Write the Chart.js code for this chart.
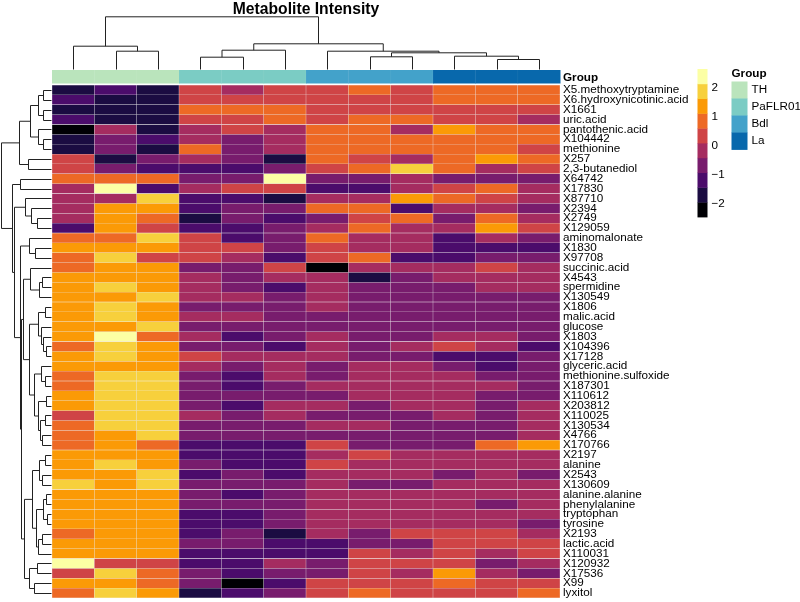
<!DOCTYPE html>
<html><head><meta charset="utf-8">
<script src="https://cdn.jsdelivr.net/npm/chart.js@4.4.1/dist/chart.umd.min.js"></script>
<style>html,body{margin:0;padding:0;background:#fff}#wrap{width:800px;height:602px;position:relative}</style>
</head><body><div id="wrap"><canvas id="c" width="800" height="602"></canvas></div>
<script>
// ---------- data ----------
const rowLabels = ["X5.methoxytryptamine","X6.hydroxynicotinic.acid","X1661","uric.acid","pantothenic.acid","X104442","methionine","X257","2,3-butanediol","X64742","X17830","X87710","X2394","X2749","X129059","aminomalonate","X1830","X97708","succinic.acid","X4543","spermidine","X130549","X1806","malic.acid","glucose","X1803","X104396","X17128","glyceric.acid","methionine.sulfoxide","X187301","X110612","X203812","X110025","X130534","X4766","X170766","X2197","alanine","X2543","X130609","alanine.alanine","phenylalanine","tryptophan","tyrosine","X2193","lactic.acid","X110031","X120932","X17536","X99","lyxitol"];
const groupNames = ["TH","PaFLR01","Bdl","La"];
const sampleLabels = ["TH_1","TH_2","TH_3","PaFLR01_1","PaFLR01_2","PaFLR01_3","Bdl_1","Bdl_2","Bdl_3","La_1","La_2","La_3"];
const sampleGroup = [0,0,0,1,1,1,2,2,2,3,3,3];

// row-scaled intensities, 3 replicates per group, one triple per metabolite (rows in label order)
const valuesTH = [[-1.7,-1.2,-1.7],[-1.2,-1.7,-1.7],[-1.7,-1.7,-1.7],[-1.2,-1.7,-1.7],[-2.3,-0.2,-1.7],[-1.7,-0.7,-1.2],[-1.7,-0.7,-1.7],[0.4,-1.7,-0.7],[0.4,-0.7,-1.2],[0.9,0.9,0.9],[-0.2,2.5,-1.2],[-0.2,-0.2,1.9],[-0.2,1.4,1.4],[-0.2,1.4,0.9],[-1.2,1.4,0.4],[0.9,0.9,1.9],[1.4,1.4,1.4],[0.9,1.9,0.4],[0.9,1.4,1.4],[1.4,1.4,1.4],[1.4,1.9,1.4],[1.4,1.4,1.9],[1.4,1.9,1.4],[1.4,1.9,1.4],[1.4,1.4,1.9],[1.4,2.5,0.9],[0.9,1.9,1.4],[1.4,1.9,1.4],[1.4,1.4,1.4],[0.9,1.9,1.9],[0.9,1.9,1.9],[1.4,1.9,1.9],[1.4,1.9,1.9],[0.4,1.9,1.9],[0.9,1.9,1.9],[0.9,1.4,1.9],[0.9,1.4,0.9],[1.4,1.4,1.4],[1.4,1.9,1.4],[1.4,1.4,1.9],[1.9,1.4,1.9],[1.4,1.4,1.4],[1.4,1.4,1.4],[1.4,1.4,1.4],[1.4,1.4,1.4],[0.9,1.4,1.4],[1.4,1.4,1.4],[1.4,1.4,1.4],[2.5,0.4,0.4],[0.4,1.9,0.9],[1.4,1.4,0.9],[0.9,1.9,1.4]];
const valuesPaFLR01 = [[0.4,-0.2,0.4],[0.4,0.4,0.4],[0.9,0.9,0.9],[0.4,0.4,0.9],[-0.2,0.4,-0.2],[-0.2,-0.7,-0.2],[0.9,-0.7,-0.2],[-0.2,-0.7,-1.7],[-1.2,-1.2,-0.7],[-0.7,-0.7,2.5],[-0.2,0.4,0.4],[-1.2,-1.2,-1.7],[-1.2,-0.7,-0.7],[-1.7,-0.7,-1.2],[-1.2,-1.2,-0.7],[0.4,-1.2,-0.7],[0.4,0.4,-0.7],[0.4,-0.2,-1.2],[-0.7,-0.7,0.4],[-0.2,-0.7,-0.2],[-0.2,-0.7,-1.2],[-0.2,-0.2,-0.7],[-0.7,-0.7,-0.7],[-0.2,-0.2,-0.7],[-0.7,-0.7,-0.7],[-0.2,-1.2,-0.7],[-0.7,-0.7,-1.2],[0.4,-0.2,-0.2],[-0.2,-0.7,-0.2],[-0.7,-1.2,-0.2],[-0.7,-1.2,-0.7],[-0.7,-0.7,-0.7],[-0.7,-1.2,-0.2],[-0.2,-0.7,-0.2],[-0.7,-0.7,-0.7],[-0.7,-0.7,-0.7],[-1.2,-1.2,-1.2],[-1.2,-1.2,-1.2],[-0.7,-1.2,-1.2],[-1.2,-0.7,-1.2],[-0.7,-0.7,-0.7],[-0.7,-1.2,-0.7],[-0.7,-0.7,-0.7],[-1.2,-1.2,-0.7],[-1.2,-1.2,-0.7],[-1.2,-0.7,-1.7],[-0.7,-0.7,-1.2],[-1.2,-1.2,-1.2],[-1.2,-1.2,-0.2],[-0.7,-1.2,-0.7],[-0.7,-2.3,-1.2],[-1.7,-1.2,-0.7]];
const valuesBdl = [[0.4,0.9,0.4],[0.4,0.4,0.4],[0.4,0.4,0.4],[0.4,0.9,0.9],[0.9,0.9,-0.2],[0.9,0.9,0.9],[0.9,0.9,0.9],[0.9,0.4,-0.2],[0.4,0.9,1.9],[-0.7,-0.7,-0.2],[-1.2,-1.2,-0.2],[-0.2,-0.2,1.4],[0.9,0.9,-1.2],[-0.7,0.4,0.9],[-0.2,0.9,-0.2],[0.9,-0.2,-0.2],[0.4,-0.2,-0.2],[0.4,0.9,-1.2],[-2.3,-0.2,-0.2],[-0.2,-1.7,-0.7],[-0.2,-0.7,-0.7],[-0.2,-0.7,-0.7],[-0.2,-0.7,-0.7],[-0.7,-0.7,-0.7],[-0.7,-0.7,-0.7],[-0.2,-0.7,-0.7],[-0.2,-0.7,-0.2],[-0.2,-0.7,-0.7],[-0.7,-0.2,-0.2],[-0.7,-0.2,-0.2],[-0.2,-0.2,-0.2],[-0.7,-0.2,-0.2],[-0.2,-0.7,-0.2],[-0.7,-0.7,-0.7],[-0.2,-0.2,-0.7],[-0.7,-0.7,-0.7],[0.4,-0.7,-0.7],[-0.2,0.4,-0.2],[0.4,-0.2,-0.2],[-0.2,-0.2,-0.2],[-0.2,-0.7,-0.7],[-0.2,-0.2,-0.2],[-0.2,-0.2,-0.2],[-0.2,-0.2,-0.2],[-0.2,-0.2,-0.2],[-0.2,-0.7,0.4],[-1.2,-0.7,-0.7],[-1.2,0.4,-0.2],[-0.7,0.4,0.4],[-0.7,0.4,-0.2],[0.4,0.4,0.4],[0.4,0.9,0.4]];
const valuesLa = [[0.9,0.9,0.9],[0.9,0.9,0.9],[0.4,0.4,0.4],[0.4,0.4,-0.2],[1.4,0.9,0.9],[0.9,0.9,0.9],[0.9,0.9,0.4],[0.9,1.4,0.9],[0.9,-0.2,0.4],[-0.7,-0.7,-0.7],[0.4,0.9,-0.2],[0.9,0.4,-0.2],[-0.2,-0.2,-0.7],[-0.7,0.9,-0.2],[-0.2,1.4,0.4],[-1.2,-0.2,-0.7],[-1.2,-1.2,-1.2],[-1.2,-0.7,-0.7],[-0.2,0.4,-0.2],[-0.2,-0.2,-0.2],[-0.7,-0.2,-0.2],[-0.7,-0.7,-0.7],[-0.7,-0.7,-0.7],[-0.7,-0.7,-0.7],[-0.7,-0.7,-0.7],[-0.2,-0.2,-0.7],[0.4,-0.2,-1.2],[-1.2,-1.2,-0.7],[-0.7,-1.2,-0.7],[-0.2,-0.7,-0.7],[-0.2,-0.2,-0.7],[-0.2,-0.7,-0.7],[-0.2,-0.7,-0.2],[-0.2,-0.7,-0.2],[-0.7,-0.7,-0.2],[-0.7,-0.7,-0.2],[-0.7,0.9,1.4],[-0.2,-0.2,-0.2],[-0.2,-0.2,-0.2],[-0.7,-0.2,-0.7],[-0.2,-0.2,-0.2],[-0.2,-0.2,-0.2],[-0.2,-0.7,-0.2],[-0.2,-0.2,-0.2],[-0.2,-0.2,-0.7],[0.4,0.4,-0.2],[0.4,0.4,0.4],[0.4,-0.2,0.4],[0.4,-0.7,-0.2],[1.4,-0.2,-0.7],[0.9,0.4,0.4],[0.4,0.4,0.9]];

// colour scale (10 equal bins between these limits) and its legend ticks
const colorMin = -2.46, colorMax = 2.64;
const legendTicks = [2, 1, 0, -1, -2];
const legendTickLabels = ["2", "1", "0", "\u22121", "\u22122"];

// hierarchical clustering: [left, right, mergeHeight]; leaves are 1-based sample / row numbers
const colTree = [[1,[2,3,18.3],23.3],[[[4,5,12.3],6,19.3],[7,[[8,9,12.7],[10,[11,12,10],13.3],16.7],18.3],25.7],52.7];
const rowTree = [
  [[[[1,2,7.7],[3,4,7.7],12.7],[5,[6,7,7.7],12.7],21],[8,9,23.7],32.7],
  [[10,11,31.3],
   [[12,[13,[14,15,13.7],20],26],
    [[16,[17,18,16],22],
     [[[19,[[20,21,9],22,12],21],[[[23,24,6],[25,[26,[27,28,5],8],10],13],[[29,[30,31,6],10],[[32,33,5],[[34,35,6],[36,37,9],11],13],17],22],28],
      [[[[38,39,6],[40,41,9],12],[[[42,43,5],[44,45,4],8],[[46,47,9],48,13],15],19],[[49,50,14],[51,52,17],22],27],30.3],31.3],37],39.3],
  51];

// ---------- styles ----------
const inferno = ["#000004","#1B0C42","#4B0C6B","#781C6D","#A52C60","#CF4446","#ED6925","#FB9A06","#F7D03C","#FCFFA4"];
const groupColors = ["#BAE4BC","#7BCCC4","#43A2CA","#0868AC"];
const FONT = '"Liberation Sans", Arial, Helvetica, sans-serif';

const groupValues = [valuesTH, valuesPaFLR01, valuesBdl, valuesLa];
function cellValue(row, col) { return groupValues[sampleGroup[col]][row][col % 3]; }
function colorOf(v) {
  let k = Math.floor((v - colorMin) / (colorMax - colorMin) * inferno.length);
  k = Math.max(0, Math.min(inferno.length - 1, k));
  return inferno[k];
}

function treeMax(t) { return Array.isArray(t) ? t[2] : 0; }
function drawTree(ctx, node, leafPos, toDepth, orient) {
  if (!Array.isArray(node)) return { p: leafPos(node - 1), h: 0 };
  const a = drawTree(ctx, node[0], leafPos, toDepth, orient);
  const b = drawTree(ctx, node[1], leafPos, toDepth, orient);
  const h = node[2];
  const d = toDepth(h), da = toDepth(a.h), db = toDepth(b.h);
  ctx.beginPath();
  if (orient === 'col') {
    ctx.moveTo(a.p, da); ctx.lineTo(a.p, d); ctx.lineTo(b.p, d); ctx.lineTo(b.p, db);
  } else {
    ctx.moveTo(da, a.p); ctx.lineTo(d, a.p); ctx.lineTo(d, b.p); ctx.lineTo(db, b.p);
  }
  ctx.stroke();
  return { p: (a.p + b.p) / 2, h: h };
}

const decorations = {
  id: 'decorations',
  afterDraw(chart) {
    const ctx = chart.ctx, xs = chart.scales.x, ys = chart.scales.y, area = chart.chartArea;
    const colW = (area.right - area.left) / sampleLabels.length;
    const annTop = area.top - 15, annH = 13.5;
    ctx.save();
    // annotation track
    sampleLabels.forEach((s, i) => {
      ctx.fillStyle = groupColors[sampleGroup[i]];
      ctx.fillRect(xs.getPixelForValue(i) - colW / 2, annTop, colW + 0.5, annH);
    });
    ctx.strokeStyle = 'rgba(255,255,255,0.12)'; ctx.lineWidth = 0.5;
    for (let i = 1; i < sampleLabels.length; i++) {
      const x = xs.getPixelForValue(i) - colW / 2;
      ctx.beginPath(); ctx.moveTo(x, annTop); ctx.lineTo(x, annTop + annH); ctx.stroke();
    }
    ctx.fillStyle = '#000';
    ctx.font = 'bold 11.7px ' + FONT; ctx.textBaseline = 'middle'; ctx.textAlign = 'left';
    ctx.fillText('Group', area.right + 3, annTop + annH / 2 + 1);

    // dendrograms
    ctx.strokeStyle = '#222'; ctx.lineWidth = 1;
    const colBase = annTop - 0.5, colPx = 52.7;
    drawTree(ctx, colTree, i => Math.round(xs.getPixelForValue(i)) + 0.5,
      h => colBase - h / treeMax(colTree) * colPx, 'col');
    const rowBase = area.left - 1, rowPx = 50.5;
    drawTree(ctx, rowTree, i => Math.round(ys.getPixelForValue(i + 0.5)) + 0.5,
      h => Math.round(rowBase - h / treeMax(rowTree) * rowPx) + 0.5, 'row');

    // row labels
    ctx.fillStyle = '#000'; ctx.font = '11.7px ' + FONT; ctx.textBaseline = 'middle'; ctx.textAlign = 'left';
    rowLabels.forEach((name, i) => ctx.fillText(name, area.right + 3, ys.getPixelForValue(i + 0.5)));

    // title
    ctx.font = 'bold 15.7px ' + FONT; ctx.textAlign = 'center'; ctx.textBaseline = 'alphabetic';
    ctx.fillText('Metabolite Intensity', (area.left + area.right) / 2, 13.5);

    // colour legend
    const lx = 697.5, lTop = 69, lBot = 217, lw = 10;
    const binH = (lBot - lTop) / inferno.length;
    inferno.forEach((c, k) => {
      ctx.fillStyle = c;
      ctx.fillRect(lx, lBot - (k + 1) * binH, lw, binH + 0.4);
    });
    ctx.fillStyle = '#000'; ctx.font = '11.7px ' + FONT; ctx.textAlign = 'left'; ctx.textBaseline = 'middle';
    legendTicks.forEach((v, k) => {
      const y = lBot - (v - colorMin) / (colorMax - colorMin) * (lBot - lTop);
      ctx.fillText(legendTickLabels[k], lx + lw + 4, y);
    });

    // group legend
    const gx = 731.5, gTop = 81.5, gw = 16, gh = 17;
    ctx.font = 'bold 11.7px ' + FONT; ctx.textBaseline = 'middle';
    ctx.fillText('Group', gx, 74);
    ctx.font = '11.7px ' + FONT;
    groupNames.forEach((g, k) => {
      ctx.fillStyle = groupColors[k];
      ctx.fillRect(gx, gTop + k * gh, gw, gh + 0.4);
      ctx.fillStyle = '#000';
      ctx.fillText(g, gx + gw + 4, gTop + k * gh + gh / 2);
    });
    ctx.restore();
  }
};

new Chart(document.getElementById('c'), {
  type: 'bar',
  data: {
    labels: sampleLabels,
    datasets: rowLabels.map((name, r) => ({
      label: name,
      data: sampleLabels.map(() => 1),
      backgroundColor: ctx => colorOf(cellValue(r, ctx.dataIndex)),
      borderColor: 'rgba(150,150,150,0.12)',
      borderWidth: 0.5,
      borderSkipped: false,
      barPercentage: 1,
      categoryPercentage: 1
    }))
  },
  options: {
    responsive: false,
    animation: false,
    devicePixelRatio: 1,
    layout: { padding: { left: 52, right: 240, top: 85, bottom: 4 } },
    scales: {
      x: { display: false, stacked: true },
      y: { display: false, stacked: true, min: 0, max: rowLabels.length, reverse: true }
    },
    plugins: { legend: { display: false }, tooltip: { enabled: false }, title: { display: false } }
  },
  plugins: [decorations]
});
</script>
</body></html>
